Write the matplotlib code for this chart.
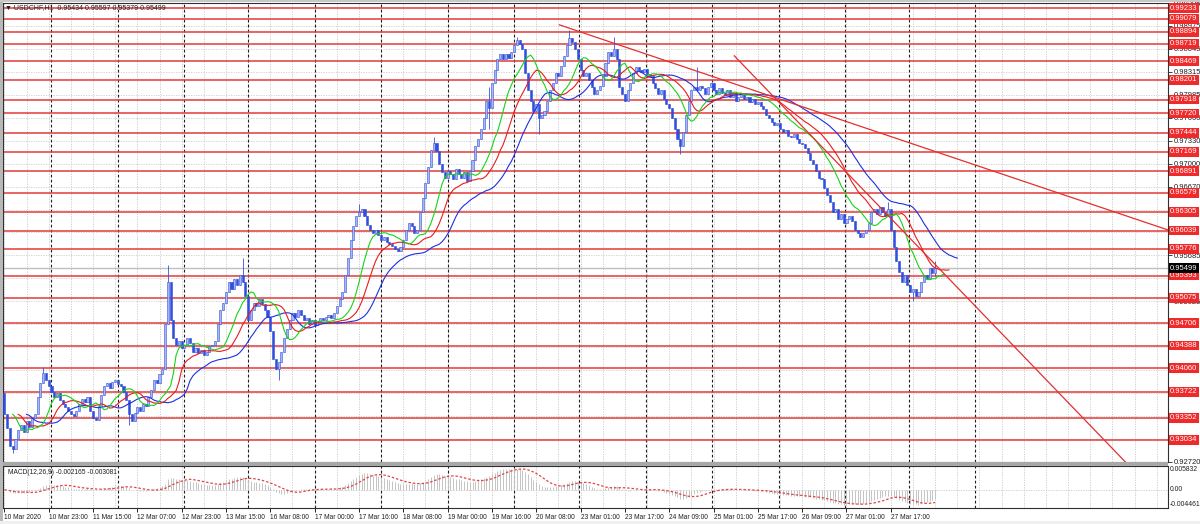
import numpy as np
import pandas as pd
import matplotlib
matplotlib.use('Agg')
import matplotlib.pyplot as plt
import matplotlib.transforms as mtransforms
from matplotlib.patches import Rectangle

plt.rcParams['font.family'] = ['Liberation Sans', 'DejaVu Sans']

title = '\u25bc USDCHF,H1  0.95434 0.95597 0.95379 0.95499'
macd_title = 'MACD(12,26,9) -0.002165 -0.003081'
last_price = 0.95499

# hourly closes (10 Mar 07:00 onwards)
first_open = 0.9370
closes = [
    .9340, .9320, .9295, .9290, .9305, .9318, .9325, .9315, .9330, .9322,
    .9335, .9340, .9365, .9385, .9400, .9390, .9380, .9372, .9365, .9370,
    .9360, .9355, .9350, .9345, .9340, .9338, .9345, .9355, .9362, .9358,
    .9365, .9345, .9335, .9332, .9352, .9368, .9380, .9385, .9378, .9386,
    .9390, .9384, .9380, .9372, .9360, .9340, .9330, .9342, .9350, .9345,
    .9355, .9352, .9365, .9375, .9390, .9385, .9398, .9405, .9470, .9530,
    .9475, .9450, .9440, .9445, .9435, .9440, .9450, .9442, .9430, .9435,
    .9428, .9432, .9425, .9430, .9438, .9440, .9445, .9470, .9490, .9500,
    .9515, .9530, .9520, .9535, .9525, .9540, .9530, .9510, .9475, .9490,
    .9500, .9495, .9505, .9498, .9490, .9480, .9460, .9420, .9405, .9415,
    .9430, .9450, .9462, .9475, .9485, .9480, .9490, .9482, .9475, .9478,
    .9470, .9475, .9468, .9472, .9478, .9475, .9480, .9482, .9478, .9485,
    .9495, .9505, .9515, .9540, .9565, .9590, .9610, .9625, .9630, .9635,
    .9625, .9612, .9605, .9600, .9605, .9598, .9590, .9595, .9588, .9585,
    .9582, .9578, .9575, .9580, .9590, .9605, .9615, .9610, .9600, .9605,
    .9630, .9650, .9672, .9695, .9720, .9730, .9718, .9700, .9688, .9680,
    .9690, .9685, .9678, .9692, .9685, .9680, .9688, .9675, .9690, .9705,
    .9725, .9735, .9750, .9765, .9790, .9780, .9815, .9835, .9850, .9858,
    .9850, .9858, .9852, .9860, .9870, .9878, .9872, .9865, .9830, .9805,
    .9790, .9775, .9785, .9765, .9770, .9775, .9790, .9805, .9815, .9830,
    .9825, .9840, .9855, .9870, .9880, .9875, .9865, .9850, .9835, .9825,
    .9830, .9820, .9810, .9800, .9805, .9812, .9825, .9845, .9860, .9855,
    .9865, .9850, .9810, .9800, .9790, .9805, .9815, .9830, .9838, .9835,
    .9832, .9836, .9828, .9825, .9815, .9808, .9800, .9805, .9792, .9785,
    .9780, .9765, .9750, .9735, .9725, .9745, .9770, .9790, .9805, .9810,
    .9805, .9812, .9808, .9800, .9810, .9815, .9805, .9800, .9808, .9802,
    .9798, .9805, .9795, .9802, .9790, .9796, .9800, .9792, .9795, .9788,
    .9792, .9785, .9788, .9782, .9778, .9770, .9765, .9760, .9755, .9758,
    .9750, .9745, .9748, .9740, .9738, .9742, .9735, .9730, .9728, .9722,
    .9715, .9705, .9700, .9690, .9680, .9678, .9665, .9655, .9645, .9630,
    .9635, .9620, .9628, .9615, .9620, .9625, .9618, .9605, .9600, .9595,
    .9600, .9605, .9615, .9630, .9635, .9628, .9638, .9630, .9625, .9635,
    .9605, .9580, .9560, .9545, .9530, .9540, .9525, .9515, .9520, .9510,
    .9515, .9530, .9540, .9535, .9550, .9543, .95499,
]
# long wicks that stand out: bar -> price
wick_highs = {14: 0.9408, 59: 0.9555, 86: 0.9565, 128: 0.9642, 155: 0.9738,
              175: 0.9810, 185: 0.9882, 204: 0.9892, 220: 0.9882, 250: 0.9838,
              319: 0.9645, 336: 0.95597}
wick_lows = {3: 0.9285, 45: 0.9325, 99: 0.9389, 175: 0.9750, 193: 0.9743,
             244: 0.9714, 328: 0.9502, 336: 0.95379}

levels = [0.99233, 0.99079, 0.98894, 0.98719, 0.98469, 0.98201, 0.97918,
          0.97720, 0.97444, 0.97169, 0.96891, 0.96579, 0.96305, 0.96039,
          0.95776, 0.95393, 0.95075, 0.94706, 0.94388, 0.94060, 0.93722,
          0.93352, 0.93034]
price_ticks = [0.99305, 0.98975, 0.98645, 0.98315, 0.97985, 0.97660, 0.97330,
               0.97000, 0.96670, 0.96340, 0.96015, 0.95685, 0.95355, 0.95025,
               0.94695, 0.94365, 0.94040, 0.93710, 0.93380, 0.93050, 0.92720]
date_labels = ['10 Mar 2020', '10 Mar 23:00', '11 Mar 15:00', '12 Mar 07:00',
               '12 Mar 23:00', '13 Mar 15:00', '16 Mar 08:00', '17 Mar 00:00',
               '17 Mar 16:00', '18 Mar 08:00', '19 Mar 00:00', '19 Mar 16:00',
               '20 Mar 08:00', '23 Mar 01:00', '23 Mar 17:00', '24 Mar 09:00',
               '25 Mar 01:00', '25 Mar 17:00', '26 Mar 09:00', '27 Mar 01:00',
               '27 Mar 17:00']
day_breaks = [17, 41, 65, 88, 112, 136, 160, 184, 207.5, 231.5, 255.5, 279.5,
              303.5, 326.5, 350.5]
trend1 = [(200.4, 0.98991), (420.6, 0.96040)]
trend2 = [(263.5, 0.98547), (404.7, 0.92716)]
macd_ticks = [0.005832, 0.0, -0.004461]
macd_tick_text = ['0.005832', '0.00', '-0.004461']

n = len(closes)
idx = np.arange(n)
c = np.array(closes)
o = np.array([first_open] + closes[:-1])
o[-1] = 0.95434
h = np.maximum(o, c)
l = np.minimum(o, c)
for k, v in wick_highs.items():
    h[k] = v
for k, v in wick_lows.items():
    l[k] = v

s = pd.Series(c)
lips = s.ewm(alpha=1 / 5, adjust=False).mean()
teeth = s.ewm(alpha=1 / 8, adjust=False).mean()
jaw = s.ewm(alpha=1 / 13, adjust=False).mean()
macd = s.ewm(span=12, adjust=False).mean() - s.ewm(span=26, adjust=False).mean()
signal = macd.rolling(9, min_periods=1).mean()

W, H = 1200, 524
fig = plt.figure(figsize=(12, 5.24), dpi=100)
fig.patch.set_facecolor('white')
ax = fig.add_axes([3 / W, (H - 462) / H, 1165 / W, 459 / H])
mx = fig.add_axes([3 / W, (H - 508) / H, 1165 / W, 42 / H])
xmax = 1165 / 2.77 - 0.5

for a in (ax, mx):
    a.set_xlim(-0.5, xmax)
    for sp in a.spines.values():
        sp.set_color('#303030')
        sp.set_linewidth(0.8)
    for b in range(0, int(xmax) + 1, 8):
        a.axvline(b, color='#c8c8c8', lw=0.6, ls=(0, (1.5, 1.5)), zorder=0)
    for b in day_breaks:
        a.axvline(b, color='#202020', lw=0.8, ls=(0, (2.5, 2)), zorder=1)

ax.set_ylim(0.92716, 0.99300)
for p in price_ticks:
    ax.axhline(p, color='#cccccc', lw=0.6, ls=(0, (1.5, 1.5)), zorder=0)
ax.axhline(last_price, color='#c0c0c0', lw=1.0, zorder=1)
for lv in levels:
    ax.axhline(lv, color='#e23b3b', lw=1.1, zorder=2)

# candles
up = c >= o
ax.vlines(idx, l, h, color='#3553dc', lw=0.6, zorder=3)
ax.bar(idx[up], (c - o)[up], bottom=o[up], width=0.75, color='#a9b6f2',
       edgecolor='#3553dc', lw=0.4, zorder=4)
ax.bar(idx[~up], (c - o)[~up], bottom=o[~up], width=0.75, color='#2f4fdc',
       edgecolor='#2f4fdc', lw=0.4, zorder=4)

# alligator
ax.plot(idx + 8, jaw, color='#1f2fe0', lw=0.8, zorder=5)
ax.plot(idx + 5, teeth, color='#e81c1c', lw=0.8, zorder=5)
ax.plot(idx + 3, lips, color='#19d219', lw=0.8, zorder=5)

# trend lines (rays)
for (x0, y0), (x1, y1) in (trend1, trend2):
    k = (y1 - y0) / (x1 - x0)
    ax.plot([x0, x0 + 400], [y0, y0 + 400 * k], color='#e23030', lw=0.9, zorder=5)

# grey scale labels, the ones sitting right under a level box are hidden by it
shown = [f'{p:.5f}' if min(abs(p - lv) for lv in levels) > 0.0004 else ''
         for p in price_ticks]
ax.yaxis.tick_right()
ax.set_yticks(price_ticks)
ax.set_yticklabels(shown)
ax.tick_params(axis='y', length=3, width=0.6, pad=1.5, labelsize=5.5,
               colors='#202020')
ax.tick_params(axis='x', length=0, labelbottom=False)

tr = mtransforms.blended_transform_factory(ax.transAxes, ax.transData)
for lv in levels:
    ax.text(1.0 + 2 / 1165, lv, f'{lv:.5f}', transform=tr, ha='left', va='center',
            fontsize=5.5, color='white', clip_on=False, zorder=7,
            bbox=dict(boxstyle='square,pad=0.18', fc='#f02a2a', ec='none'))
ax.text(1.0 + 2 / 1165, last_price, f'{last_price:.5f}', transform=tr, ha='left',
        va='center', fontsize=5.5, color='white', clip_on=False, zorder=8,
        bbox=dict(boxstyle='square,pad=0.18', fc='black', ec='none'))

fig.text(5 / W, 1 - 8 / H, title, fontsize=5.0, va='center', color='#202020')

# MACD panel
mx.set_ylim(-0.004461, 0.005832)
mx.axhline(0, color='#c8c8c8', lw=0.6, ls=(0, (1.5, 1.5)), zorder=0)
mx.vlines(idx, 0, macd, color='#c4c4c4', lw=0.7, zorder=2)
mx.plot(idx, signal, color='#e04545', lw=0.9, ls=(0, (2, 1.5)), zorder=3)
mx.text(5 / 1165, 0.93, macd_title, transform=mx.transAxes, fontsize=4.8,
        va='top', color='#202020')
mx.set_yticks([])
mtr = mtransforms.blended_transform_factory(mx.transAxes, mx.transData)
for v, txt, va in zip(macd_ticks, macd_tick_text, ['top', 'center', 'bottom']):
    mx.text(1.0 + 2 / 1165, v, txt, transform=mtr, ha='left', va=va,
            fontsize=4.9, color='#202020', clip_on=False)
mx.set_xticks(range(0, 16 * len(date_labels), 16))
mx.set_xticklabels(date_labels, ha='left', fontsize=4.8, color='#202020')
mx.tick_params(axis='x', length=3, width=0.6, pad=1.5)

# window frame pieces
fig.patches.append(Rectangle((0, (H - 466) / H), 1168 / W, 4 / H, transform=fig.transFigure,
                             fc='#a8a8a8', ec='none'))
fig.patches.append(Rectangle((0, 0), 3 / W, 1, transform=fig.transFigure,
                             fc='#b8b8b8', ec='none'))
fig.patches.append(Rectangle((0, 1 - 2 / H), 1, 2 / H, transform=fig.transFigure,
                             fc='#c8c8c8', ec='none'))
fig.patches.append(Rectangle((0, 0), 1, 3 / H, transform=fig.transFigure,
                             fc='#f0f0f0', ec='none'))

fig.savefig('out.png', dpi=100)
